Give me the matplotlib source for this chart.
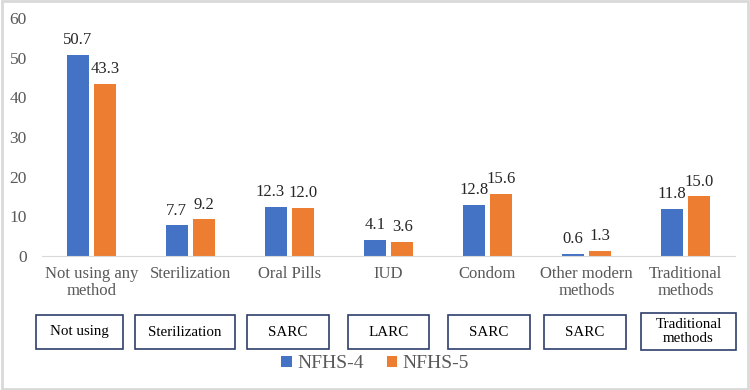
import matplotlib.pyplot as plt
import numpy as np
from matplotlib.patches import Rectangle

categories = ["Not using any\nmethod", "Sterilization", "Oral Pills", "IUD",
              "Condom", "Other modern\nmethods", "Traditional\nmethods"]
nfhs4 = [50.7, 7.7, 12.3, 4.1, 12.8, 0.6, 11.8]
nfhs5 = [43.3, 9.2, 12.0, 3.6, 15.6, 1.3, 15.0]
groups = ["Not using", "Sterilization", "SARC", "LARC", "SARC", "SARC",
          "Traditional\nmethods"]
series = ["NFHS-4", "NFHS-5"]

blue = "#4472C4"
orange = "#ED7D31"
plt.rcParams['font.family'] = ['Liberation Serif', 'DejaVu Serif']

fig = plt.figure(figsize=(7.5, 3.9), dpi=100)
ax = fig.add_axes([0.056, 0.3436, 0.924, 0.6104])

x = np.arange(len(categories))
w = 0.22
b1 = ax.bar(x - 0.14, nfhs4, w, color=blue, label=series[0])
b2 = ax.bar(x + 0.14, nfhs5, w, color=orange, label=series[1])
for k, (bars, vals) in enumerate(((b1, nfhs4), (b2, nfhs5))):
    for i, (r, v) in enumerate(zip(bars, vals)):
        # nudge labels apart when the two values sit at nearly the same height
        dx = 0
        if abs(nfhs4[i] - nfhs5[i]) < 1.0 and v > 10:
            dx = -4 if k == 0 else 0
        ax.annotate(f"{v:.1f}", (r.get_x() + r.get_width() / 2, v),
                    xytext=(dx, 5), textcoords="offset points",
                    ha="center", va="bottom", fontsize=12, color="#262626")

ax.set_xlim(-0.5, len(categories) - 0.5)
ax.set_ylim(0, 60)
ax.set_yticks(range(0, 61, 10))
ax.set_xticks(x)
ax.set_xticklabels(categories, fontsize=12, color="#595959", linespacing=1.1)
ax.tick_params(axis="y", length=0, pad=11, labelsize=12.5, labelcolor="#595959")
ax.tick_params(axis="x", length=0, pad=7)
for s in ("top", "right", "left"):
    ax.spines[s].set_visible(False)
ax.spines["bottom"].set_color("#D9D9D9")

# group boxes below the axis
box_w = [87, 100, 82, 81, 82, 82, 95]
box_cx = [79.5, 185, 288, 388.5, 489, 585, 688.5]
for cx, bw, g in zip(box_cx, box_w, groups):
    top = 313 if "\n" in g else 315
    h = 37 if "\n" in g else 34
    fig.patches.append(Rectangle(((cx - bw / 2) / 750, 1 - (top + h) / 390),
                                 bw / 750, h / 390, transform=fig.transFigure,
                                 fill=False, edgecolor="#2F3E6B", linewidth=1.2))
    fig.text(cx / 750, 1 - (top + h / 2) / 390, g, ha="center", va="center",
             fontsize=10.8, color="black", linespacing=1.0)

fig.legend(handles=[b1, b2], loc="center", bbox_to_anchor=(375 / 750, 1 - 364 / 390),
           ncol=2, frameon=False, fontsize=14, handlelength=0.55, handleheight=0.55,
           handletextpad=0.25, columnspacing=1.2, labelcolor="#595959")

fig.patches.append(Rectangle((0.002, 0.003), 0.995, 0.994, transform=fig.transFigure,
                             fill=False, edgecolor="#D9D9D9", linewidth=2))

fig.savefig("out.png", dpi=100)
